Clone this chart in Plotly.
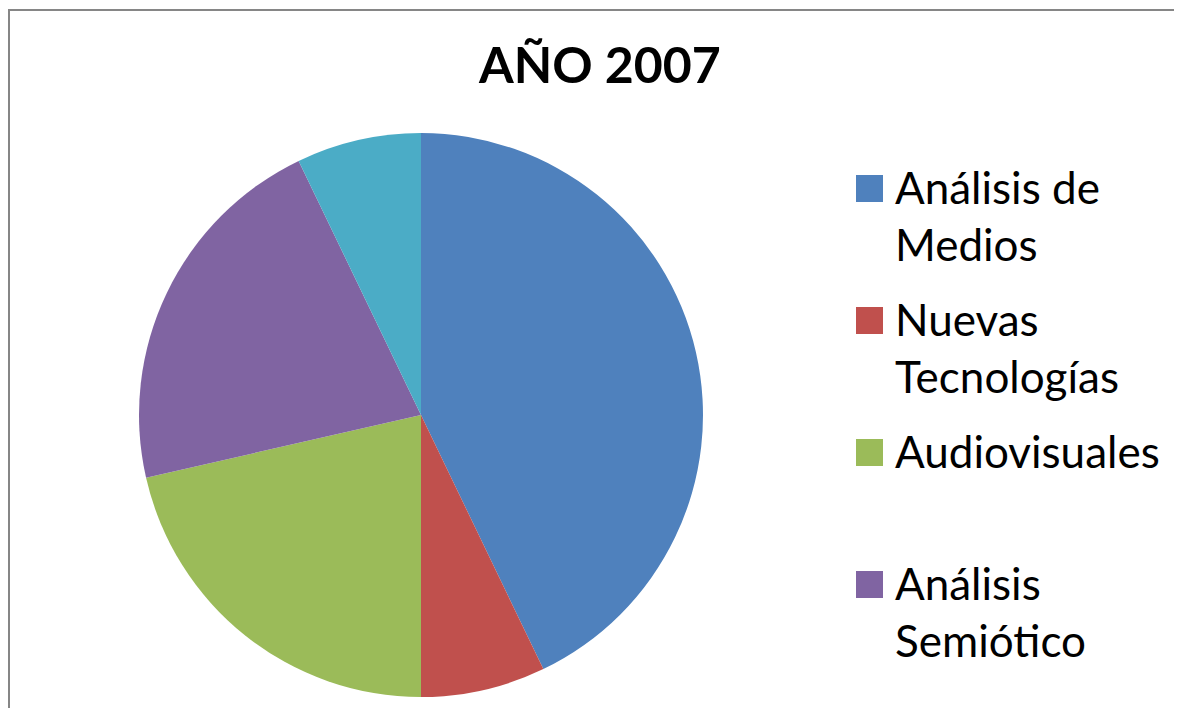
import plotly.graph_objects as go

# ---- data ----
categories = ["Análisis de Medios", "Nuevas Tecnologías", "Audiovisuales",
              "Análisis Semiótico", "Otros"]
values = [6, 1, 3, 3, 1]
colors = ["#4F81BD", "#C0504D", "#9BBB59", "#8064A2", "#4BACC6"]
legend_lines = ["Análisis de<br>Medios", "Nuevas<br>Tecnologías", "Audiovisuales",
                "Análisis<br>Semiótico"]
title_text = "AÑO 2007"

# page body has an 8px default margin; figure sized to fit inside the window
M = 8
W, H = 1182 - 2 * M, 724 - 2 * M - 8
ML, MT = 2, 3  # small margins so the frame lines (axis lines) sit at the edge


def px(x):
    return (x - M - ML) / (W - ML)


def py(y):
    return 1 - (y - M - MT) / (H - MT)


fig = go.Figure()
fig.add_trace(go.Pie(
    labels=categories,
    values=values,
    marker=dict(colors=colors, line=dict(width=0)),
    sort=False,
    direction="clockwise",
    rotation=0,
    textinfo="none",
    showlegend=False,
    domain=dict(x=[px(139), px(703)], y=[py(697), py(133)]),
))
# empty cartesian trace so the frame can be drawn with axis lines
fig.add_trace(go.Scatter(x=[], y=[], showlegend=False, hoverinfo="skip"))

shapes = []
annotations = [
    dict(text="<b>" + title_text + "</b>", xref="paper", yref="paper",
         x=px(599), y=py(64), xanchor="center", yanchor="middle",
         showarrow=False, font=dict(family="Lato", size=50, color="black"))
]

spacing = 132
for i, txt in enumerate(legend_lines):
    top = 175 + i * spacing
    shapes.append(dict(type="rect", xref="paper", yref="paper",
                       x0=px(856), x1=px(883), y0=py(top + 27), y1=py(top),
                       fillcolor=colors[i], line=dict(width=0)))
    annotations.append(dict(text=txt, xref="paper", yref="paper",
                            x=px(893), y=py(top - 16), xanchor="left", yanchor="top",
                            align="left", showarrow=False,
                            font=dict(family="Lato", size=44, color="black")))

axis_common = dict(showline=True, linecolor="#868686", linewidth=2,
                   showgrid=False, zeroline=False, showticklabels=False,
                   ticks="", fixedrange=True, range=[0, 1])

fig.update_layout(
    width=W, height=H,
    margin=dict(l=ML, r=0, t=MT, b=0, pad=0),
    paper_bgcolor="white",
    plot_bgcolor="white",
    xaxis=dict(side="top", **axis_common),
    yaxis=dict(side="left", **axis_common),
    shapes=shapes,
    annotations=annotations,
)

fig.write_html("out.html")
